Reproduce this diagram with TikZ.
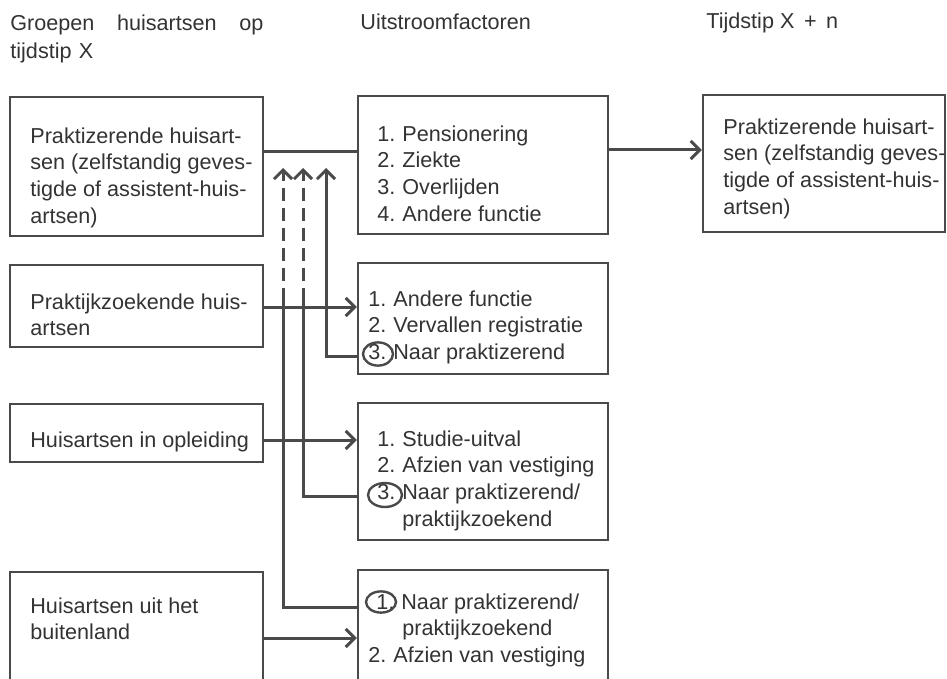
\documentclass[tikz,border=0pt]{standalone}
\usepackage{fontspec}
\setmainfont{Liberation Sans}
\usetikzlibrary{arrows.meta}
\definecolor{ink}{HTML}{333333}
\definecolor{rule}{HTML}{4A4A4A}
\newcommand\nr[1]{\makebox[12.5pt][l]{#1}}

\begin{document}
\begin{tikzpicture}[x=0.5pt, y=-0.5pt,
		box/.style={draw=rule, line width=1.2pt, inner sep=0pt},
		txt/.style={anchor=north west, inner sep=0pt, align=left, text=ink, font=\fontsize{10.8pt}{13.4pt}\selectfont},
		flow/.style={draw=rule, line width=1.5pt},
		arr/.style={-{Straight Barb[length=4.5pt, width=9pt]}}]
		\useasboundingbox (0,0) rectangle (947,679);
		\clip (0,0) rectangle (947,679);
		\fill[white] (0,0) rectangle (947,679);
		% koppen
		\node[txt, text width=126.5pt, font=\fontsize{10.8pt}{14pt}\selectfont] (kop1) at (10,14) {Groepen\hfill huisartsen\hfill op\\tijdstip X};
		\node[txt] (kop2) at (360,13) {Uitstroomfactoren};
		\node[txt] (kop3) at (706,12) {Tijdstip X \,+\, n};
		% kaders
		\node[box, minimum width=126.5pt, minimum height=69.5pt] (groep1) at (136.5,166.5) {};
		\node[box, minimum width=126.5pt, minimum height=41pt] (groep2) at (136.5,306) {};
		\node[box, minimum width=126.5pt, minimum height=29pt] (groep3) at (136.5,433) {};
		\node[box, minimum width=126.5pt, minimum height=80pt] (groep4) at (136.5,652) {};
		\node[box, minimum width=125pt, minimum height=69pt] (uit1) at (483,165) {};
		\node[box, minimum width=125pt, minimum height=55.5pt] (uit2) at (483,318.5) {};
		\node[box, minimum width=125pt, minimum height=68.5pt] (uit3) at (483,471.5) {};
		\node[box, minimum width=125pt, minimum height=81pt] (uit4) at (483,651) {};
		\node[box, minimum width=121pt, minimum height=68.5pt] (tijd) at (824,163.5) {};
		% teksten
		\node[txt] (t-groep1) at (30,127) {Praktizerende huisart-\\sen (zelfstandig geves-\\tigde of assistent-huis-\\artsen)};
		\node[txt] (t-groep2) at (30,293) {Praktijkzoekende huis-\\artsen};
		\node[txt] (t-groep3) at (30,431) {Huisartsen in opleiding};
		\node[txt] (t-groep4) at (30,597) {Huisartsen uit het\\buitenland};
		\node[txt] (t-uit1) at (377,125) {\nr{1.}Pensionering\\\nr{2.}Ziekte\\\nr{3.}Overlijden\\\nr{4.}Andere functie};
		\node[txt] (t-uit2) at (368,290) {\nr{1.}Andere functie\\\nr{2.}Vervallen registratie\\\nr{3.}Naar praktizerend};
		\node[txt] (t-uit3) at (377,430) {\nr{1.}Studie-uitval\\\nr{2.}Afzien van vestiging\\\nr{3.}Naar praktizerend/\\\nr{}praktijkzoekend};
		\node[txt] (t-uit4) at (368,593) {\hspace*{4pt}\nr{1.}Naar praktizerend/\\\hspace*{17pt}praktijkzoekend\\\nr{2.}Afzien van vestiging};
		\node[txt] (t-tijd) at (723,118) {Praktizerende huisart-\\sen (zelfstandig geves-\\tigde of assistent-huis-\\artsen)};
		% pijlpunten terugstroom
		\coordinate (top1) at (283,168);
		\coordinate (top2) at (303,168);
		\coordinate (top3) at (326,168);
		\coordinate (knik1) at (283,288);
		\coordinate (knik2) at (303,288);
		% verbindingen
		\draw[flow] (groep1.east |- 0,152) -- (uit1.west |- 0,152);
		\draw[flow, arr] (uit1.east |- 0,150) -- (tijd.west |- 0,150);
		\foreach \i/\y in {2/307, 3/440, 4/638}
			\draw[flow, arr] (groep\i.east |- 0,\y) -- (uit\i.west |- 0,\y);
		\draw[flow, arr] (uit2.west |- 0,356) -| (top3);
		\draw[flow] (uit3.west |- 0,496) -| (knik2);
		\draw[flow] (uit4.west |- 0,607) -| (knik1);
		\foreach \k in {1,2}
			\draw[flow, arr, dash pattern=on 6.5pt off 3.5pt, dash phase=6.5pt] (knik\k) -- (top\k);
		% omcirkelde nummers
		\draw[rule, line width=1.2pt] (378,354) ellipse [x radius=7.5pt, y radius=5.8pt];
		\draw[rule, line width=1.2pt] (385,495) ellipse [x radius=8.5pt, y radius=6pt];
		\draw[rule, line width=1.2pt] (381,602) ellipse [x radius=7.5pt, y radius=5.3pt];
	\end{tikzpicture}
\end{document}
